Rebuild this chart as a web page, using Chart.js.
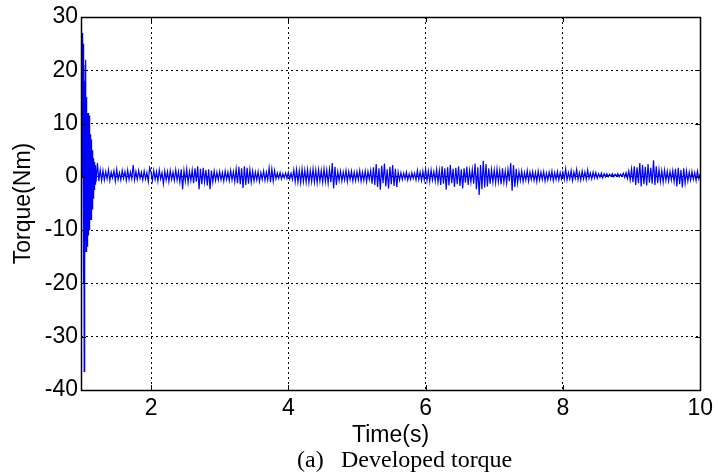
<!DOCTYPE html>
<html>
<head>
<meta charset="utf-8">
<script src="https://cdn.jsdelivr.net/npm/chart.js@4.4.0/dist/chart.umd.min.js"></script>
<style>
html, body { margin: 0; padding: 0; background: #fff; }
</style>
</head>
<body>
<canvas id="torque_chart" width="718" height="473"></canvas>
<script>
// start-up transient, sampled every 4 ms
var startupStart = 0.99;
var startupStep = 0.004;
var startupTorque = [
    0, 14, 27, 27, 26.5, 5, -20, -8, 25, -36.5,
    -22, 18, -18, 21, -12, 22, -14, 15, -14, 12.4,
    -13, 12, -12, 11, -11, 12, -10, 11.5, -10, 9,
    -9, 8, -8, 7, -8, 7, -7.5, 5, -6, 5,
    -5, 4.5, -4, 3.5, -3, 2.8, -2.5, 2.6, -2, 2.2,
    -1.5, 1.8
];

// steady running, sampled every 20 ms
var runStart = 1.20;
var runStep = 0.02;
var torque1 = [ // 1.20 - 1.98 s
    -0.9, 2.6, -0.8, 1.3, -0.7,
    1.2, -0.6, 1.0, -0.4, 1.3, -0.7, 0.9, -0.2, 1.1, -0.8,
    1.4, -0.5, 0.8, -0.6, 1.2, -0.3, 1.0, -0.7, 1.3, -0.5,
    0.9, -0.4, 2.2, -0.6, 1.0, -0.5, 1.2, -0.3, 0.9, -0.6,
    1.1, -0.4, 0.8, -0.9, 1.7
];
var torque2 = [ // 2.00 - 2.98 s
    0.9, -0.7, 1.2, -0.5, 1.0, -0.8, 1.3, -0.4, 0.8, -1.3,
    1.1, -0.6, 1.0, -0.9, 1.2, -0.5, 0.9, -0.7, 1.3, -0.6,
    1.0, -1.0, 1.4, -2.3, 1.2, -0.8, 1.5, -1.1, 1.0, -0.7,
    1.3, -1.2, 1.6, -0.9, 2.0, -2.3, 1.5, -1.4, 1.7, -1.0,
    1.3, -1.6, 1.4, -2.3, 1.2, -1.0, 1.1, -0.7, 0.9, -0.6
];
var torque3 = [ // 3.00 - 3.98 s
    1.0, -0.6, 0.8, -0.8, 1.1, -0.5, 0.9, -0.7, 1.2, -0.6,
    1.0, -0.9, 1.5, -1.2, 1.9, -1.4, 1.6, -2.1, 2.0, -1.5,
    1.7, -1.3, 1.4, -1.0, 1.1, -0.8, 0.9, -0.6, 1.0, -0.9,
    0.8, -0.5, 1.1, -0.7, 0.9, -0.6, 1.7, -1.0, 1.5, -0.8,
    1.2, -0.4, 0.7, -0.3, 0.8, -0.4, 0.6, -0.2, 0.7, -0.3
];
var torque4 = [ // 4.00 - 4.98 s
    0.8, -0.4, 0.7, -0.5, 1.3, -0.9, 1.4, -1.0, 1.2, -1.1,
    1.5, -0.9, 1.3, -1.0, 1.4, -1.1, 1.2, -0.9, 1.5, -1.0,
    1.3, -1.1, 1.4, -0.8, 1.2, -1.0, 1.5, -0.9, 1.3, -1.2,
    1.4, -1.0, 2.6, -2.2, 1.9, -1.5, 1.0, -0.7, 1.1, -0.8,
    0.9, -0.6, 1.2, -0.9, 1.0, -0.5, 1.1, -0.8, 0.9, -0.7
];
var torque5 = [ // 5.00 - 5.98 s
    1.0, -0.6, 1.2, -0.8, 0.9, -0.7, 1.1, -0.9, 1.0, -0.5,
    1.2, -1.3, 1.8, -1.5, 2.4, -1.9, 1.6, -2.4, 2.1, -1.2,
    2.5, -1.8, 1.4, -2.2, 1.9, -1.4, 2.2, -1.7, 1.5, -1.9,
    0.9, -0.6, 0.8, -0.5, 0.7, -0.4, 0.9, -0.6, 0.6, -0.5,
    0.8, -0.3, 0.7, -0.6, 1.2, -0.5, 0.9, -0.7, 1.1, -0.6
];
var torque6 = [ // 6.00 - 6.98 s
    1.4, -0.7, 1.1, -0.9, 1.3, -0.6, 1.0, -0.8, 1.4, -1.0,
    1.2, -1.5, 2.0, -1.3, 1.6, -2.4, 1.8, -1.6, 2.2, -1.2,
    1.5, -1.9, 1.7, -1.4, 2.0, -1.7, 1.4, -2.2, 1.6, -1.1,
    1.9, -1.5, 1.2, -1.0, 1.4, -1.3, 2.5, -2.3, 1.8, -3.4,
    2.2, -2.3, 3.0, -2.0, 2.4, -1.8, 1.6, -1.3, 1.4, -1.0
];
var torque7 = [ // 7.00 - 7.98 s
    1.3, -1.1, 1.5, -0.9, 1.2, -1.4, 1.6, -1.0, 1.1, -1.2,
    1.4, -0.8, 2.6, -2.6, 2.2, -1.9, 1.5, -1.2, 1.0, -0.7,
    1.1, -0.9, 0.8, -0.6, 1.2, -0.8, 0.9, -0.5, 1.0, -0.7,
    0.8, -0.9, 1.1, -0.6, 0.9, -0.5, 1.0, -0.8, 0.7, -0.6,
    0.9, -0.4, 1.1, -0.7, 0.8, -0.5, 1.0, -0.6, 0.8, -0.4
];
var torque8 = [ // 8.00 - 8.98 s
    0.9, -0.5, 1.5, -0.6, 0.8, -0.4, 1.2, -0.7, 0.9, -0.3,
    1.4, -0.5, 0.8, -0.6, 1.1, -0.4, 0.9, -0.5, 1.3, -0.3,
    0.7, -0.4, 0.9, -0.2, 0.8, -0.3, 0.6, -0.1, 0.7, -0.2,
    0.6, 0.0, 0.6, 0.0, 0.5, 0.1, 0.6, 0.0, 0.5, 0.1,
    0.6, 0.0, 0.5, 0.1, 0.7, -0.1, 0.8, -0.3, 1.1, -0.6
];
var torque9 = [ // 9.00 - 10.00 s
    1.5, -1.0, 2.0, -1.5, 1.8, -1.2, 2.6, -1.8, 2.2, -1.4,
    1.9, -1.6, 2.4, -1.1, 1.7, -1.3, 3.1, -1.5, 2.0, -1.2,
    1.4, -0.9, 1.2, -1.0, 1.3, -0.7, 1.1, -0.8, 1.0, -0.6,
    1.2, -0.9, 1.5, -1.8, 1.7, -1.4, 1.3, -2.0, 1.6, -1.2,
    1.1, -0.8, 0.9, -0.6, 1.0, -0.5, 0.8, -0.7, 1.1, -0.4,
    0.6
];

var xTicks = [2, 4, 6, 8, 10];
var yTicks = [-40, -30, -20, -10, 0, 10, 20, 30];

function toPoints(start, step, values) {
    return values.map(function (v, i) {
        return { x: +(start + i * step).toFixed(3), y: v };
    });
}

var runTorque = torque1.concat(torque2, torque3, torque4, torque5, torque6, torque7, torque8, torque9);
var points = toPoints(startupStart, startupStep, startupTorque).concat(toPoints(runStart, runStep, runTorque));

var tickFont = { family: "'Liberation Sans', Arial, sans-serif", size: 23 };

// axes box with inward ticks, plus the figure caption
var framePlugin = {
    id: 'frame',
    afterDraw: function (chart) {
        var ctx = chart.ctx;
        var a = chart.chartArea;
        var sx = chart.scales.x, sy = chart.scales.y;
        ctx.save();
        ctx.strokeStyle = '#000';
        ctx.lineWidth = 1;
        ctx.beginPath();
        xTicks.forEach(function (v) {
            var px = Math.round(sx.getPixelForValue(v)) + 0.5;
            ctx.moveTo(px, a.bottom); ctx.lineTo(px, a.bottom - 5);
            ctx.moveTo(px, a.top); ctx.lineTo(px, a.top + 5);
        });
        yTicks.forEach(function (v) {
            var py = Math.round(sy.getPixelForValue(v)) + 0.5;
            ctx.moveTo(a.left, py); ctx.lineTo(a.left + 5, py);
            ctx.moveTo(a.right, py); ctx.lineTo(a.right - 5, py);
        });
        ctx.stroke();
        ctx.lineWidth = 1.5;
        ctx.strokeRect(Math.round(a.left) + 0.5, Math.round(a.top) + 0.5,
            Math.round(a.right - a.left), Math.round(a.bottom - a.top));

        ctx.fillStyle = '#000';
        ctx.font = "24px 'Liberation Serif', 'Times New Roman', serif";
        ctx.textBaseline = 'alphabetic';
        ctx.textAlign = 'left';
        ctx.fillText('(a)', 297, 467);
        ctx.fillText('Developed torque', 341, 467);
        ctx.restore();
    }
};

new Chart(document.getElementById('torque_chart').getContext('2d'), {
    type: 'line',
    data: {
        datasets: [{
            label: 'Torque',
            data: points,
            borderColor: '#0000FF',
            borderWidth: 1.2,
            pointRadius: 0,
            tension: 0,
            fill: false
        }]
    },
    options: {
        responsive: false,
        animation: false,
        parsing: false,
        layout: { padding: { left: 0, right: 16, top: 17, bottom: 0 } },
        plugins: {
            legend: { display: false },
            tooltip: { enabled: false }
        },
        scales: {
            x: {
                type: 'linear',
                min: 0.98,
                max: 10,
                afterBuildTicks: function (scale) {
                    scale.ticks = xTicks.map(function (v) { return { value: v }; });
                },
                afterFit: function (scale) { scale.height = 83; },
                grid: { color: '#000', lineWidth: 1, drawTicks: false },
                border: { display: false, dash: [2, 3] },
                ticks: { color: '#000', font: tickFont, padding: 5, maxRotation: 0 },
                title: {
                    display: true,
                    text: 'Time(s)',
                    color: '#000',
                    font: { family: tickFont.family, size: 23, lineHeight: 1 },
                    padding: { top: 0, bottom: 26 }
                }
            },
            y: {
                min: -40,
                max: 30,
                afterBuildTicks: function (scale) {
                    scale.ticks = yTicks.map(function (v) { return { value: v }; });
                },
                afterFit: function (scale) { scale.width = 81; },
                grid: { color: '#000', lineWidth: 1, drawTicks: false },
                border: { display: false, dash: [2, 3] },
                ticks: { color: '#000', font: tickFont, padding: 3 },
                title: {
                    display: true,
                    text: 'Torque(Nm)',
                    color: '#000',
                    font: { family: tickFont.family, size: 23, lineHeight: 1 },
                    padding: { top: 12, bottom: 0 }
                }
            }
        }
    },
    plugins: [framePlugin]
});
</script>
</body>
</html>
